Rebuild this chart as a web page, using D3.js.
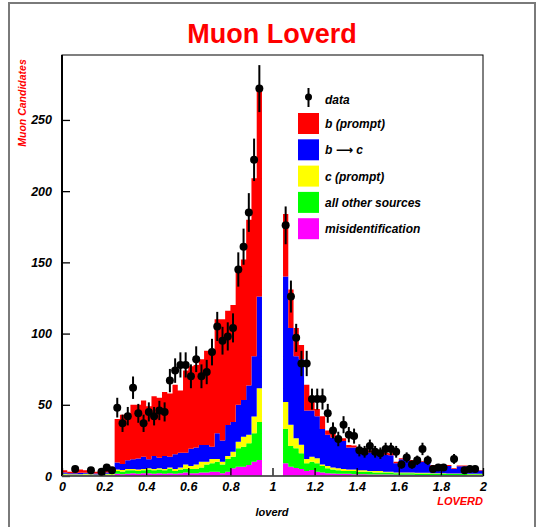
<!DOCTYPE html>
<html><head><meta charset="utf-8">
<script src="https://cdn.jsdelivr.net/npm/d3@7"></script>
<style>body{margin:0;background:#fff}svg{display:block}</style>
</head><body>
<svg id="chart" width="541" height="527"></svg>
<script>
// ---- data (80 bins of width 0.025 from 0 to 2) ----
const binWidth = 0.025;
const bPrompt = [1.5,1,1,2.3,1.7,1.5,1.2,1.3,1.5,1.3, 30.6,34.6,32,38.3,37.8,39.4,37.3,42,42.1,45, 44.4,48.8,43.6,57.6,57.8,58,60.2,66.2,67.4,80, 85,80.2,82,95,98.6,116.5,125,145,0,0, 0,0,44,27,20,10,18,10,5,9, 3,3,2,2,1.8,1.5,1.5,1.6,1.5,1.5, 1.3,1.4,1.5,1,0.7,1,0.7,0.5,0.5,0.7, 0.7,0.7,0.7,0.7,0.5,0.5,0.5,0.5,0.5,0.4];
const bToC = [1,0.8,0.7,1,0.8,0.7,0.8,0.9,1,0.8, 4.9,4.2,6,6.7,7.7,8.6,6.2,9,7.4,9, 7.6,10.2,10.4,8.4,12.2,12,11.8,11.8,8.6,18, 15,21.8,21,26,25.8,34.5,42.3,64.4,0,0, 0,0,88,68,57.5,60,34,32.4,29.6,25, 22,21,19.5,19.5,15.5,15.5,14.5,14,13,12.5, 12,12,11.5,6.5,9.2,8.5,8,7.7,7.7,7.1, 5,5,5,5.2,3.2,5,5,4.9,3.9,2.3];
const cPrompt = [0.5,0.4,0.5,0.4,0.5,0.5,0.3,0.4,0.5,0.4, 1,1,1,1,1,1,1,1,1,1, 1,1.5,1.5,3,2,3,4,2,3,2, 2,2,3.4,4.6,7,6,11.7,23.6,0,0, 0,0,19,15,7.1,6,3,3.6,3.5,1, 1.5,1.5,1.5,1.5,1,1,1,1,0.5,1, 1,0.5,0.5,0.5,0.5,0.5,0.5,0.5,0.5,0.4, 0.4,0.4,0.4,0.4,0.4,0.4,0.4,0.3,0.3,0.3];
const otherSources = [0.5,0.4,0.4,0.4,0.5,0.4,0.4,0.5,0.5,0.5, 2,2,2.5,2,2,2,2.5,2.5,2.5,2.5, 3,2,2.5,2.5,3,3,3.5,5.5,6,7, 6,9,8.2,12.9,14.1,15.3,20,26.8,0,0, 0,0,24,14.5,13.8,11,5.5,5.8,5.9,4.5, 3.5,2.7,2.5,2,2,2.3,1.8,1.8,2,1.5, 1.5,1.5,1.5,1.2,1.2,1.2,1.2,1.1,1.1,1.1, 1,1,1,0.8,0.8,0.8,0.8,0.8,0.8,0.7];
const misid = [0.5,0.4,0.4,0.4,0.5,0.4,0.3,0.4,0.5,0.5, 1.5,1.2,1.5,2,1.5,2,2,1.5,2,1.5, 2,1.5,2,2.5,2,2,2.5,2.5,3,3, 2,3,5.4,6.5,6.5,7.7,10,11.2,0,0, 0,0,9,6.5,5.6,5,3.5,4.2,3,2.5, 2,1.8,1.5,1.5,1.5,1.2,1.2,1.2,1,1, 1,1,1,0.8,0.8,0.8,0.8,0.7,0.7,0.7, 0.6,0.6,0.6,0.6,0.6,0.6,0.6,0.5,0.5,0.5];
const dataCounts = [null,null,5,null,null,4,null,3,6,4, 48,37,42,62,44,37,45,42,46,45, 67,74,78,78,70,82,70,73,87,105, 95,98,104,145,161,185,222,272,null,null, null,null,176,126,97,79,79,54,54,54, 44,32,26,36,29,28,18,17,21,17, 16,19,19,17,8,13,8,11,19,11, 5,6,6,null,12,null,4,5,5,null];

const seriesKeys = ["misid","other","cPrompt","bToC","bPrompt"];
const seriesLabels = {bPrompt:"b (prompt)", bToC:"b \u27F6 c", cPrompt:"c (prompt)", other:"all other sources", misid:"misidentification"};
const seriesColors = {bPrompt:"#ff0000", bToC:"#0000ff", cPrompt:"#ffff00", other:"#00ff00", misid:"#ff00ff"};
const legendOrder = ["bPrompt","bToC","cPrompt","other","misid"];
const xTickValues = [0,0.2,0.4,0.6,0.8,1,1.2,1.4,1.6,1.8,2];
const xTickLabels = ["0","0.2","0.4","0.6","0.8","1","1.2","1.4","1.6","1.8","2"];
const yTickValues = [0,50,100,150,200,250];

// ---- drawing ----
const svg = d3.select("#chart");
const x = d3.scaleLinear().domain([0,2]).range([62,483]);
const y = d3.scaleLinear().domain([0,295.6]).range([476,55]);
const fontFam = "'Liberation Sans', Arial, sans-serif";

// outer page frame
svg.append("rect").attr("x",9).attr("y",3).attr("width",526).attr("height",560)
  .attr("fill","none").attr("stroke","#7a7a7a").attr("stroke-width",2);

const rows = bPrompt.map((v,i)=>({i, x0:i*binWidth, x1:(i+1)*binWidth,
  bPrompt:v, bToC:bToC[i], cPrompt:cPrompt[i], other:otherSources[i], misid:misid[i]}));
const stack = d3.stack().keys(seriesKeys)(rows);

const area = d3.area().x(d=>d.x).y0(d=>d.y0).y1(d=>d.y1);
stack.forEach(layer=>{
  const pts = [];
  layer.forEach((s,i)=>{
    const r = rows[i];
    pts.push({x:x(r.x0), y0:y(s[0]), y1:y(s[1])});
    pts.push({x:x(r.x1), y0:y(s[0]), y1:y(s[1])});
  });
  svg.append("path").attr("d",area(pts)).attr("fill",seriesColors[layer.key])
    .attr("stroke","none");
});

// axes
const gy = svg.append("g").attr("transform","translate(62,0)");
gy.call(d3.axisLeft(y).tickValues(d3.range(0,295,10)).tickSize(-4).tickFormat(""));
gy.call(d3.axisLeft(y).tickValues(yTickValues).tickSize(-8).tickPadding(10).tickFormat(d3.format("d")));
gy.selectAll(".domain").remove();
gy.selectAll("line").attr("stroke","#000").attr("stroke-width",1.3);

const gx = svg.append("g").attr("transform","translate(0,476)");
gx.call(d3.axisBottom(x).tickValues(d3.range(0,81,2).map(k=>k*binWidth)).tickSize(-4).tickFormat(""));
gx.call(d3.axisBottom(x).tickValues(xTickValues).tickSize(-8).tickPadding(6).tickFormat((d,i)=>xTickLabels[i]));
gx.selectAll(".domain").remove();
gx.selectAll("line").attr("stroke","#000").attr("stroke-width",1.3);

svg.selectAll(".tick text").attr("fill","#000")
  .style("font-family",fontFam)
  .style("font-weight","bold").style("font-style","italic").style("font-size","12.5px");

// frame
svg.append("rect").attr("x",62).attr("y",55).attr("width",421).attr("height",421)
  .attr("fill","none").attr("stroke","#000").attr("stroke-width",1);
svg.append("line").attr("x1",62).attr("x2",62).attr("y1",55).attr("y2",476).attr("stroke","#000").attr("stroke-width",2);
svg.append("line").attr("x1",62).attr("x2",483).attr("y1",476).attr("y2",476).attr("stroke","#555").attr("stroke-width",1.5);

// data points
const pts = dataCounts.map((v,i)=>({v, xc:(i+0.5)*binWidth})).filter(d=>d.v!==null);
svg.append("g").selectAll("line").data(pts).join("line")
  .attr("x1",d=>x(d.xc)).attr("x2",d=>x(d.xc))
  .attr("y1",d=>y(Math.max(0,d.v-Math.sqrt(d.v)))).attr("y2",d=>y(d.v+Math.sqrt(d.v)))
  .attr("stroke","#000").attr("stroke-width",2);
svg.append("g").selectAll("circle").data(pts).join("circle")
  .attr("cx",d=>x(d.xc)).attr("cy",d=>y(d.v)).attr("r",4).attr("fill","#000");

// legend
const lg = svg.append("g");
lg.append("line").attr("x1",308.5).attr("x2",308.5).attr("y1",88).attr("y2",107).attr("stroke","#000").attr("stroke-width",2);
lg.append("circle").attr("cx",308.5).attr("cy",97).attr("r",3.5).attr("fill","#000");
lg.append("text").attr("x",325).attr("y",104).text("data");
legendOrder.forEach((k,i)=>{
  const top = 113 + i*26.3;
  lg.append("rect").attr("x",298).attr("y",top).attr("width",21).attr("height",21).attr("fill",seriesColors[k]);
  lg.append("text").attr("x",325).attr("y",top+15).text(seriesLabels[k]);
});
lg.selectAll("text").attr("fill","#000").style("font-family",fontFam+", 'DejaVu Sans'")
  .style("font-weight","bold").style("font-style","italic").style("font-size","12px");

// titles
svg.append("text").attr("x",272).attr("y",43).attr("text-anchor","middle")
  .attr("fill","#ff0000").style("font-family",fontFam).style("font-weight","bold")
  .style("font-size","27px").text("Muon Loverd");
svg.append("text").attr("transform","translate(25.5,103) rotate(-90)").attr("text-anchor","middle")
  .attr("fill","#ff0000").style("font-family",fontFam).style("font-weight","bold").style("font-style","italic")
  .style("font-size","10.5px").text("Muon Candidates");
svg.append("text").attr("x",272).attr("y",515.5).attr("text-anchor","middle")
  .attr("fill","#000").style("font-family",fontFam).style("font-weight","bold").style("font-style","italic")
  .style("font-size","11px").text("loverd");
svg.append("text").attr("x",483).attr("y",505).attr("text-anchor","end")
  .attr("fill","#ff0000").style("font-family",fontFam).style("font-weight","bold").style("font-style","italic")
  .style("font-size","11px").text("LOVERD");
</script>
</body></html>
